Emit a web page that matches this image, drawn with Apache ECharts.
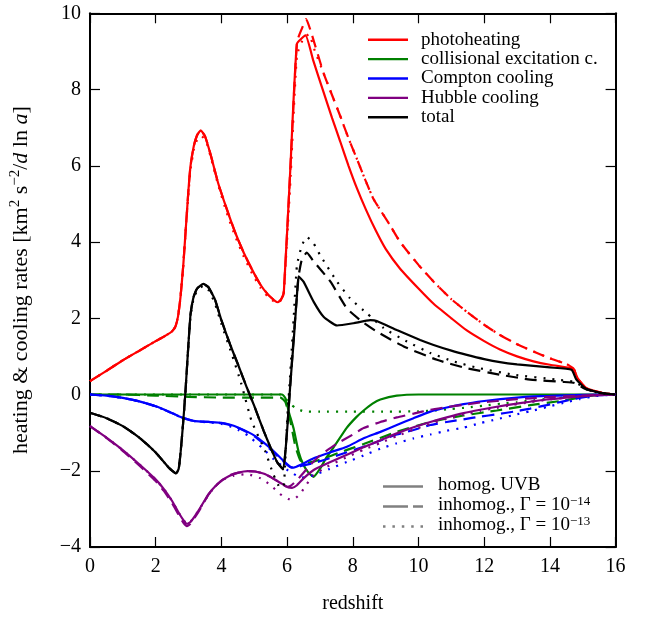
<!DOCTYPE html>
<html>
<head>
<meta charset="utf-8">
<script src="https://cdn.jsdelivr.net/npm/echarts@6/dist/echarts.min.js"></script>
<style>html,body{margin:0;padding:0;background:#fff}#c{width:649px;height:619px}</style>
</head>
<body>
<div id="c"></div>
<script>
// ---- data: [redshift, rate] ----
const xTicks = [0, 2, 4, 6, 8, 10, 12, 14, 16];
const yTicks = [-4, -2, 0, 2, 4, 6, 8, 10];

const photoHomog = [[0,0.35],[0.5,0.62],[1,0.9],[1.5,1.15],[2,1.4],[2.35,1.57],[2.5,1.66],[2.6,1.78],[2.68,2.05],[2.76,2.6],[2.84,3.4],[2.92,4.4],[3.0,5.4],[3.06,6.0],[3.16,6.52],[3.26,6.8],[3.37,6.93],[3.5,6.78],[3.67,6.3],[3.9,5.55],[4.17,4.85],[4.42,4.25],[4.68,3.72],[4.95,3.25],[5.19,2.88],[5.42,2.62],[5.64,2.45],[5.72,2.42],[5.82,2.5],[5.9,2.68],[6.1,5.95],[6.3,9.2],[6.56,9.42],[6.8,8.75],[7.11,7.93],[7.37,7.25],[7.62,6.63],[7.87,6.0],[8.13,5.4],[8.4,4.85],[8.7,4.3],[9.0,3.82],[9.44,3.3],[10.0,2.78],[10.46,2.38],[11.0,2.0],[11.47,1.68],[12.0,1.4],[12.48,1.18],[13.0,1.0],[13.5,0.87],[14.0,0.78],[14.6,0.7],[14.72,0.66],[14.85,0.42],[15.1,0.17],[15.6,0.04],[16,0]];
const photoInh14 = [[0,0.35],[0.5,0.62],[1,0.9],[1.5,1.15],[2,1.4],[2.35,1.57],[2.5,1.66],[2.6,1.78],[2.68,2.05],[2.76,2.6],[2.84,3.4],[2.92,4.4],[3.0,5.4],[3.06,6.0],[3.16,6.52],[3.26,6.8],[3.37,6.93],[3.5,6.78],[3.67,6.3],[3.9,5.55],[4.17,4.85],[4.42,4.25],[4.68,3.72],[4.95,3.25],[5.19,2.88],[5.42,2.62],[5.64,2.45],[5.72,2.42],[5.82,2.5],[5.9,2.68],[6.1,5.95],[6.3,9.25],[6.45,9.6],[6.58,9.85],[6.75,9.45],[7.11,8.43],[7.37,7.85],[7.62,7.3],[7.87,6.72],[8.13,6.17],[8.38,5.63],[8.63,5.13],[9.14,4.43],[9.44,4.0],[10.0,3.4],[10.46,2.96],[11.0,2.5],[11.47,2.17],[12.0,1.83],[12.48,1.56],[13.0,1.32],[13.5,1.13],[14.0,0.95],[14.5,0.8],[14.72,0.68],[14.85,0.42],[15.1,0.17],[15.6,0.04],[16,0]];
const photoInh13 = [[0,0.35],[0.5,0.62],[1,0.9],[1.5,1.15],[2,1.4],[2.35,1.57],[2.5,1.66],[2.6,1.78],[2.68,2.05],[2.76,2.6],[2.84,3.4],[2.92,4.4],[3.0,5.3],[3.06,5.9],[3.16,6.42],[3.26,6.68],[3.4,6.78],[3.55,6.6],[3.7,6.15],[3.9,5.5],[4.17,4.75],[4.42,4.15],[4.68,3.62],[4.95,3.15],[5.19,2.8],[5.42,2.56],[5.64,2.42],[5.72,2.4],[5.82,2.48],[5.9,2.68],[6.1,5.6],[6.3,8.9],[6.5,9.35],[6.66,9.45],[6.85,9.0],[7.11,8.43],[7.37,7.85],[7.62,7.3],[7.87,6.72],[8.13,6.17],[8.38,5.63],[8.63,5.13],[9.14,4.43],[9.44,4.0],[10.0,3.4],[10.46,2.96],[11.0,2.5],[11.47,2.17],[12.0,1.83],[12.48,1.56],[13.0,1.32],[13.5,1.13],[14.0,0.95],[14.5,0.8],[14.72,0.68],[14.85,0.42],[15.1,0.17],[15.6,0.04],[16,0]];

const collHomog = [[0,0],[5.85,0],[5.95,-0.1],[6.05,-0.45],[6.2,-0.9],[6.35,-1.5],[6.5,-1.85],[6.65,-2.05],[6.8,-2.16],[7.0,-1.95],[7.2,-1.65],[7.42,-1.38],[7.82,-0.87],[8.1,-0.6],[8.33,-0.42],[8.6,-0.24],[8.84,-0.13],[9.34,-0.03],[10,0],[16,0]];
const collInh14 = [[0,0],[1,0],[2,-0.03],[3,-0.06],[4,-0.08],[5,-0.08],[5.8,-0.08],[5.95,-0.2],[6.1,-0.7],[6.25,-1.35],[6.4,-1.72],[6.55,-1.8],[6.8,-1.76],[7.2,-1.65],[7.6,-1.52],[8.0,-1.4],[8.33,-1.3],[9.34,-0.98],[10.36,-0.72],[11.37,-0.55],[12.38,-0.42],[13.4,-0.28],[14.41,-0.16],[14.9,-0.08],[15.4,-0.02],[16,0]];
const collInh13 = [[0,0],[5.8,0],[5.95,-0.1],[6.1,-0.25],[6.25,-0.35],[6.5,-0.44],[7,-0.45],[8,-0.45],[9,-0.45],[10,-0.44],[10.5,-0.42],[11,-0.38],[11.5,-0.34],[12,-0.29],[12.5,-0.24],[13,-0.2],[13.5,-0.15],[14,-0.11],[14.5,-0.07],[15,-0.03],[15.5,-0.01],[16,0]];

const comptonHomog = [[0,0],[0.5,-0.03],[1,-0.09],[1.5,-0.18],[2,-0.31],[2.4,-0.45],[2.7,-0.57],[3.0,-0.66],[3.2,-0.7],[3.6,-0.72],[4.0,-0.74],[4.3,-0.8],[4.52,-0.87],[4.8,-0.98],[5.03,-1.09],[5.3,-1.27],[5.53,-1.44],[5.75,-1.62],[5.94,-1.78],[6.1,-1.9],[6.2,-1.92],[6.4,-1.85],[6.81,-1.67],[7.3,-1.52],[7.82,-1.37],[8.33,-1.15],[8.84,-0.98],[9.34,-0.8],[9.85,-0.62],[10.36,-0.45],[10.86,-0.34],[11.37,-0.25],[12.0,-0.17],[12.5,-0.12],[13.0,-0.08],[13.5,-0.05],[14.0,-0.035],[14.5,-0.02],[15.0,-0.01],[16,0]];
const comptonInh14 = [[0,0],[0.5,-0.03],[1,-0.09],[1.5,-0.18],[2,-0.31],[2.4,-0.45],[2.7,-0.57],[3.0,-0.66],[3.2,-0.7],[3.6,-0.72],[4.0,-0.75],[4.3,-0.81],[4.52,-0.88],[4.8,-1.0],[5.03,-1.11],[5.3,-1.3],[5.53,-1.47],[5.75,-1.65],[5.94,-1.8],[6.1,-1.9],[6.25,-1.92],[6.4,-1.88],[6.8,-1.8],[7.3,-1.67],[7.8,-1.52],[8.3,-1.38],[8.8,-1.22],[9.34,-1.05],[9.85,-0.93],[10.36,-0.8],[10.86,-0.72],[11.37,-0.65],[11.88,-0.58],[12.38,-0.52],[12.89,-0.45],[13.4,-0.37],[13.9,-0.28],[14.41,-0.18],[14.9,-0.09],[15.4,-0.02],[16,0]];
const comptonInh13 = [[0,0],[0.5,-0.03],[1,-0.09],[1.5,-0.18],[2,-0.31],[2.4,-0.45],[2.7,-0.57],[3.0,-0.66],[3.2,-0.7],[3.6,-0.73],[4.0,-0.77],[4.3,-0.85],[4.52,-0.93],[4.8,-1.07],[5.23,-1.39],[5.6,-1.7],[6.04,-2.0],[6.44,-2.18],[6.8,-2.12],[7.3,-1.95],[7.82,-1.77],[8.33,-1.6],[8.84,-1.42],[9.34,-1.28],[9.85,-1.15],[10.36,-1.05],[10.86,-0.95],[11.37,-0.87],[11.88,-0.75],[12.38,-0.65],[12.89,-0.54],[13.4,-0.44],[13.9,-0.33],[14.41,-0.22],[14.91,-0.12],[15.4,-0.04],[16,0]];

const hubbleHomog = [[0,-0.83],[0.5,-1.13],[0.97,-1.44],[1.5,-1.83],[1.99,-2.22],[2.25,-2.48],[2.49,-2.78],[2.7,-3.1],[2.85,-3.3],[2.95,-3.39],[3.05,-3.35],[3.3,-3.05],[3.61,-2.61],[3.8,-2.42],[4.01,-2.26],[4.25,-2.13],[4.52,-2.05],[4.8,-2.01],[5.03,-2.02],[5.3,-2.08],[5.53,-2.18],[5.8,-2.32],[6.04,-2.44],[6.15,-2.45],[6.3,-2.38],[6.5,-2.2],[6.81,-1.98],[7.3,-1.78],[7.82,-1.58],[8.33,-1.38],[8.84,-1.2],[9.34,-1.02],[9.85,-0.86],[10.36,-0.72],[10.86,-0.6],[11.37,-0.49],[11.88,-0.4],[12.38,-0.32],[12.89,-0.25],[13.4,-0.19],[13.9,-0.13],[14.41,-0.09],[14.9,-0.05],[15.4,-0.02],[16,0]];
const hubbleInh14 = [[0,-0.83],[0.5,-1.14],[0.97,-1.46],[1.5,-1.86],[1.99,-2.26],[2.25,-2.53],[2.49,-2.84],[2.7,-3.16],[2.85,-3.37],[2.95,-3.45],[3.05,-3.4],[3.3,-3.08],[3.61,-2.62],[3.8,-2.42],[4.01,-2.25],[4.25,-2.12],[4.52,-2.05],[4.8,-2.01],[5.03,-2.02],[5.3,-2.08],[5.53,-2.18],[5.8,-2.32],[6.0,-2.42],[6.1,-2.4],[6.3,-2.25],[6.5,-2.05],[6.7,-1.85],[7.0,-1.6],[7.5,-1.3],[8.0,-1.05],[8.33,-0.88],[8.84,-0.72],[9.34,-0.6],[9.85,-0.5],[10.36,-0.4],[10.86,-0.33],[11.37,-0.27],[11.88,-0.21],[12.38,-0.17],[12.89,-0.13],[13.4,-0.1],[13.9,-0.07],[14.41,-0.05],[14.9,-0.03],[15.4,-0.01],[16,0]];
const hubbleInh13 = [[0,-0.83],[0.5,-1.13],[0.97,-1.44],[1.5,-1.83],[1.99,-2.22],[2.25,-2.48],[2.49,-2.78],[2.7,-3.1],[2.85,-3.3],[2.95,-3.39],[3.05,-3.35],[3.3,-3.05],[3.61,-2.63],[3.8,-2.42],[4.01,-2.25],[4.38,-2.13],[4.78,-2.09],[5.2,-2.2],[5.5,-2.38],[5.79,-2.61],[6.04,-2.74],[6.2,-2.75],[6.4,-2.6],[6.6,-2.35],[6.8,-2.12],[7.2,-1.9],[7.8,-1.65],[8.33,-1.45],[8.84,-1.27],[9.34,-1.09],[9.85,-0.92],[10.36,-0.77],[10.86,-0.64],[11.37,-0.53],[11.88,-0.43],[12.38,-0.35],[12.89,-0.27],[13.4,-0.2],[13.9,-0.14],[14.41,-0.09],[14.9,-0.05],[15.4,-0.02],[16,0]];

const totalHomog = [[0,-0.48],[0.5,-0.62],[1,-0.83],[1.5,-1.13],[2,-1.52],[2.4,-1.92],[2.62,-2.07],[2.7,-1.95],[2.76,-1.5],[2.83,-0.8],[2.9,0],[2.98,1.1],[3.06,2.1],[3.15,2.55],[3.26,2.78],[3.45,2.9],[3.6,2.82],[3.8,2.5],[4.0,1.95],[4.27,1.3],[4.5,0.8],[4.78,0.17],[5.0,-0.3],[5.29,-0.96],[5.5,-1.4],[5.7,-1.78],[5.88,-1.96],[6.0,-0.95],[6.1,0.3],[6.2,1.4],[6.3,2.6],[6.35,3.1],[6.5,2.96],[6.81,2.43],[7.11,2.04],[7.52,1.81],[8.02,1.87],[8.53,1.95],[8.73,1.93],[9.34,1.69],[10.05,1.43],[10.46,1.3],[11.0,1.15],[11.47,1.04],[12.0,0.93],[12.48,0.85],[13.0,0.79],[13.5,0.75],[14.0,0.71],[14.66,0.65],[14.8,0.4],[15.1,0.15],[15.6,0.04],[16,0]];
const totalInh14 = [[0,-0.48],[0.5,-0.62],[1,-0.83],[1.5,-1.13],[2,-1.52],[2.4,-1.92],[2.62,-2.07],[2.7,-1.95],[2.76,-1.5],[2.83,-0.8],[2.9,0],[2.98,1.1],[3.06,2.1],[3.15,2.55],[3.26,2.78],[3.45,2.9],[3.6,2.82],[3.8,2.5],[4.0,1.95],[4.27,1.3],[4.5,0.8],[4.78,0.17],[5.0,-0.3],[5.29,-0.96],[5.5,-1.4],[5.7,-1.78],[5.88,-1.96],[6.0,-0.9],[6.2,1.5],[6.35,3.1],[6.45,3.55],[6.6,3.72],[6.8,3.5],[7.32,2.96],[7.82,2.26],[8.3,1.9],[8.73,1.65],[9.55,1.26],[10.56,0.91],[11.47,0.69],[12.48,0.52],[13.4,0.39],[14.41,0.33],[14.75,0.3],[15.12,0.13],[15.5,0.04],[16,0]];
const totalInh13 = [[0,-0.48],[0.5,-0.62],[1,-0.83],[1.5,-1.13],[2,-1.52],[2.4,-1.92],[2.62,-2.07],[2.7,-1.95],[2.76,-1.5],[2.83,-0.8],[2.9,0],[2.98,1.1],[3.06,2.05],[3.15,2.5],[3.26,2.72],[3.45,2.85],[3.6,2.75],[3.8,2.4],[4.0,1.85],[4.3,1.1],[4.6,0.3],[4.92,-0.7],[5.33,-1.48],[5.58,-2.09],[5.79,-2.44],[5.9,-2.4],[6.0,-0.7],[6.1,0.6],[6.2,2.0],[6.3,3.39],[6.45,3.91],[6.6,4.13],[6.81,3.96],[7.01,3.65],[7.52,2.96],[7.92,2.52],[8.43,2.13],[8.94,1.74],[9.65,1.39],[10.36,1.09],[11.06,0.87],[11.8,0.7],[12.89,0.52],[14.21,0.39],[14.75,0.33],[15.12,0.14],[15.5,0.04],[16,0]];

const legendNames = ['photoheating', 'collisional excitation c.', 'Compton cooling', 'Hubble cooling', 'total'];
const styleNames = ['homog. UVB', 'inhomog., Γ = 10^-14', 'inhomog., Γ = 10^-13'];

// ---- chart ----
const FONT = 'Liberation Serif';
const colors = { photoheating: '#ff0000', 'collisional excitation c.': '#008000', 'Compton cooling': '#0000ff', 'Hubble cooling': '#800080', total: '#000000' };
const groups = [
  ['photoheating', photoHomog, photoInh14, photoInh13],
  ['collisional excitation c.', collHomog, collInh14, collInh13],
  ['Compton cooling', comptonHomog, comptonInh14, comptonInh13],
  ['Hubble cooling', hubbleHomog, hubbleInh14, hubbleInh13],
  ['total', totalHomog, totalInh14, totalInh13]
];
const dashT = [12, 7], dotT = [2, 7];
const series = [];
groups.forEach(g => {
  const c = colors[g[0]];
  [[g[1], 'solid'], [g[2], dashT], [g[3], dotT]].forEach(([d, t]) => {
    series.push({ type: 'line', name: g[0], data: d, symbol: 'none', showSymbol: false, animation: false,
      smooth: 0.15, lineStyle: { color: c, width: 2.2, type: t }, itemStyle: { color: c, borderWidth: 0 }, z: 2 });
  });
});
styleNames.forEach((nm, i) => {
  series.push({ type: 'line', name: nm, data: [], symbol: 'none', animation: false,
    lineStyle: { color: '#808080', width: 2.5, type: [ 'solid', dashT, dotT ][i] }, itemStyle: { color: '#808080', borderWidth: 0 } });
});

const ICON_LINE = 'path://M0,0H40V2H0Z';
const ICON_DASH = 'path://M0,0H25V2H0Z M30,0H40V2H30Z';
const ICON_DOT = 'path://M0,0H2.5V2H0Z M9.4,0H11.9V2H9.4Z M18.8,0H21.3V2H18.8Z M28.2,0H30.7V2H28.2Z M37.5,0H40V2H37.5Z';

const axisCommon = { min: 0, max: 16, interval: 2, type: 'value' };
const tickStyle = { show: true, inside: true, length: 10, lineStyle: { color: '#000', width: 1.2 } };
const lineStyleAx = { show: true, onZero: false, lineStyle: { color: '#000', width: 2 } };

const option = {
  backgroundColor: '#fff',
  animation: false,
  grid: { left: 89.4, right: 33.4, top: 13.3, bottom: 69.1 },
  xAxis: [
    Object.assign({}, axisCommon, { position: 'bottom', axisLine: lineStyleAx, axisTick: tickStyle, splitLine: { show: false },
      axisLabel: { fontFamily: FONT, fontSize: 20, color: '#000', margin: 10 },
      name: 'redshift', nameLocation: 'middle', nameGap: 47, nameTextStyle: { fontFamily: FONT, fontSize: 20, color: '#000' } }),
    Object.assign({}, axisCommon, { position: 'top', axisLine: lineStyleAx, axisTick: tickStyle, splitLine: { show: false }, axisLabel: { show: false } })
  ],
  yAxis: [
    { type: 'value', min: -4, max: 10, interval: 2, position: 'left', axisLine: lineStyleAx, axisTick: tickStyle, splitLine: { show: false },
      axisLabel: { fontFamily: FONT, fontSize: 20, color: '#000', margin: 9, formatter: v => (v < 0 ? '\u2212' + Math.abs(v) : '' + v) },
      name: '{n|heating & cooling rates [km}{s|2}{n| s}{s|\u22122}{n|/}{i|d}{n| ln }{i|a}{n|]}',
      nameLocation: 'middle', nameGap: 58, nameRotate: 90,
      nameTextStyle: { fontFamily: FONT, fontSize: 22, color: '#000',
        rich: { n: { fontFamily: FONT, fontSize: 22, color: '#000', verticalAlign: 'bottom' },
                i: { fontFamily: FONT, fontSize: 22, fontStyle: 'italic', color: '#000', verticalAlign: 'bottom' },
                s: { fontFamily: FONT, fontSize: 15, color: '#000', verticalAlign: 'bottom', padding: [0, 0, 9, 0] } } } },
    { type: 'value', min: -4, max: 10, interval: 2, position: 'right', axisLine: lineStyleAx, axisTick: tickStyle, splitLine: { show: false }, axisLabel: { show: false } }
  ],
  legend: [
    { data: legendNames, orient: 'vertical', left: 363, top: 25, itemWidth: 40, itemHeight: 2.4, itemGap: 0,
      icon: ICON_LINE, symbolKeepAspect: false, selectedMode: false, itemStyle: { borderWidth: 0 },
      textStyle: { fontFamily: FONT, fontSize: 19, color: '#000', lineHeight: 19.4, padding: [0, 0, 0, 8] } },
    { data: styleNames.map((nm, i) => ({ name: nm, icon: [ICON_LINE, ICON_DASH, ICON_DOT][i] })),
      orient: 'vertical', left: 378, top: 471, itemWidth: 40, itemHeight: 2.6, itemGap: 0,
      symbolKeepAspect: false, selectedMode: false, itemStyle: { borderWidth: 0 },
      formatter: name => {
        const m = name.match(/^(.*10)\^(-\d+)$/);
        if (!m) return '{n|' + name + '}';
        return '{n|' + m[1] + '}{s|' + m[2].replace('-', '\u2212') + '}';
      },
      textStyle: { fontFamily: FONT, fontSize: 19, color: '#000', lineHeight: 17, padding: [0, 0, 0, 10],
        rich: { n: { fontFamily: FONT, fontSize: 19, color: '#000', verticalAlign: 'bottom', lineHeight: 17 },
                s: { fontFamily: FONT, fontSize: 13, color: '#000', verticalAlign: 'bottom', lineHeight: 17, padding: [0, 0, 7, 0] } } } }
  ],
  series: series
};
const chart = echarts.init(document.getElementById('c'), null, { renderer: 'canvas' });
chart.setOption(option);
</script>
</body>
</html>
